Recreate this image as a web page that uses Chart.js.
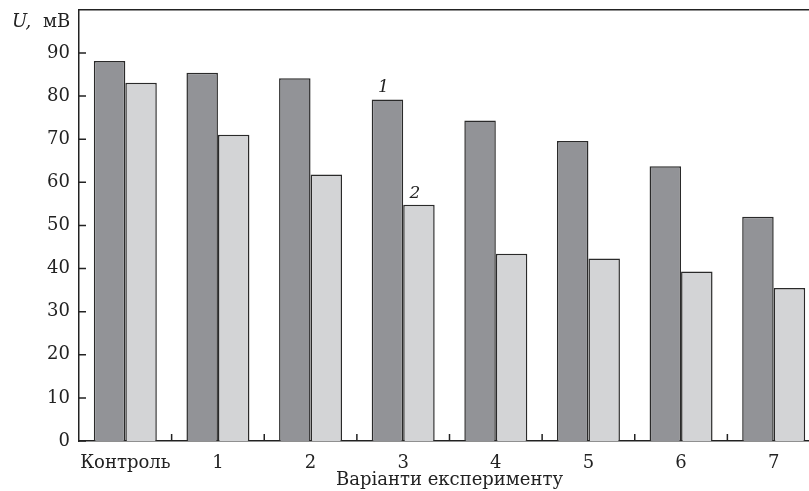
<!DOCTYPE html>
<html>
<head>
<meta charset="utf-8">
<script src="https://cdn.jsdelivr.net/npm/chart.js@4/dist/chart.umd.min.js"></script>
<style>
html,body{margin:0;padding:0;overflow:hidden;background:#fff}
#wrap{width:822px;height:501px;margin-top:-10px}
</style>
</head>
<body>
<div id="wrap"><canvas id="c"></canvas></div>
<script>
var variants=['Контроль','1','2','3','4','5','6','7'];
var series1=[88.1,85.4,84.1,79.2,74.3,69.6,63.7,52.0];
var series2=[83.1,71.0,61.8,54.8,43.4,42.3,39.3,35.5];
var yTicks=[0,10,20,30,40,50,60,70,80,90];
var seriesMarks=['1','2'];   // номери кривих над стовпчиками варіанта 3
var markAt=3;

var serif='"DejaVu Serif", "Liberation Serif", serif';
var ink='#222';

// внутрішні риски, рамка зверху, підпис осі U і номери серій
var decor={
  id:'decor',
  afterDraw:function(chart){
    var ctx=chart.ctx, a=chart.chartArea;
    var xs=chart.scales.x, ys=chart.scales.y;
    ctx.save();
    ctx.strokeStyle=ink;
    ctx.lineWidth=1.5;
    ctx.beginPath();
    ctx.moveTo(a.left,a.top);ctx.lineTo(a.right+5,a.top);
    yTicks.forEach(function(v){
      var y=ys.getPixelForValue(v);
      ctx.moveTo(a.left,y);ctx.lineTo(a.left+7,y);
    });
    for(var i=0;i<variants.length-1;i++){
      var x=(xs.getPixelForTick(i)+xs.getPixelForTick(i+1))/2;
      ctx.moveTo(x,a.bottom);ctx.lineTo(x,a.bottom-7);
    }
    ctx.stroke();

    ctx.fillStyle=ink;
    ctx.textBaseline='alphabetic';
    ctx.font='italic 18px '+serif;
    ctx.fillText('U,',12,37);
    var w=ctx.measureText('U, ').width;
    ctx.font='18px '+serif;
    ctx.fillText('мВ',12+w+6,37);

    ctx.font='italic 17px '+serif;
    ctx.textAlign='center';
    for(var d=0;d<2;d++){
      var bar=chart.getDatasetMeta(d).data[markAt];
      ctx.fillText(seriesMarks[d],bar.x-4,bar.y-7);
    }
    ctx.restore();
  }
};

var c=document.getElementById('c');
var chart=new Chart(c.getContext('2d'),{
  type:'bar',
  data:{
    labels:variants,
    datasets:[{
      label:'1',
      data:series1,
      backgroundColor:'#929397',
      borderColor:'#2a2a2a',
      borderWidth:1.5,
      borderSkipped:'bottom'
    },{
      label:'2',
      data:series2,
      backgroundColor:'#d3d4d6',
      borderColor:'#2a2a2a',
      borderWidth:1.5,
      borderSkipped:'bottom'
    }]
  },
  options:{
    responsive:true,
    maintainAspectRatio:false,
    animation:false,
    layout:{padding:{top:9,right:2,left:0,bottom:0}},
    datasets:{bar:{categoryPercentage:0.68,barPercentage:1}},
    plugins:{legend:{display:false},tooltip:{enabled:false}},
    scales:{
      x:{
        afterFit:function(s){s.height=50;},
        grid:{display:false,drawTicks:false},
        border:{color:ink,width:1.5},
        ticks:{color:ink,font:{family:serif,size:18},padding:12,
          maxRotation:0,minRotation:0,autoSkip:false},
        title:{display:true,text:'Варіанти експерименту',color:ink,
          font:{family:serif,size:18},padding:{top:0,bottom:0}}
      },
      y:{
        min:0,max:100,
        afterFit:function(s){s.width=79;},
        afterBuildTicks:function(s){s.ticks=yTicks.map(function(v){return {value:v};});},
        grid:{display:false,drawTicks:false},
        border:{color:ink,width:1.5},
        ticks:{color:ink,font:{family:serif,size:18},padding:9}
      }
    }
  },
  plugins:[decor]
});
</script>
</body>
</html>
